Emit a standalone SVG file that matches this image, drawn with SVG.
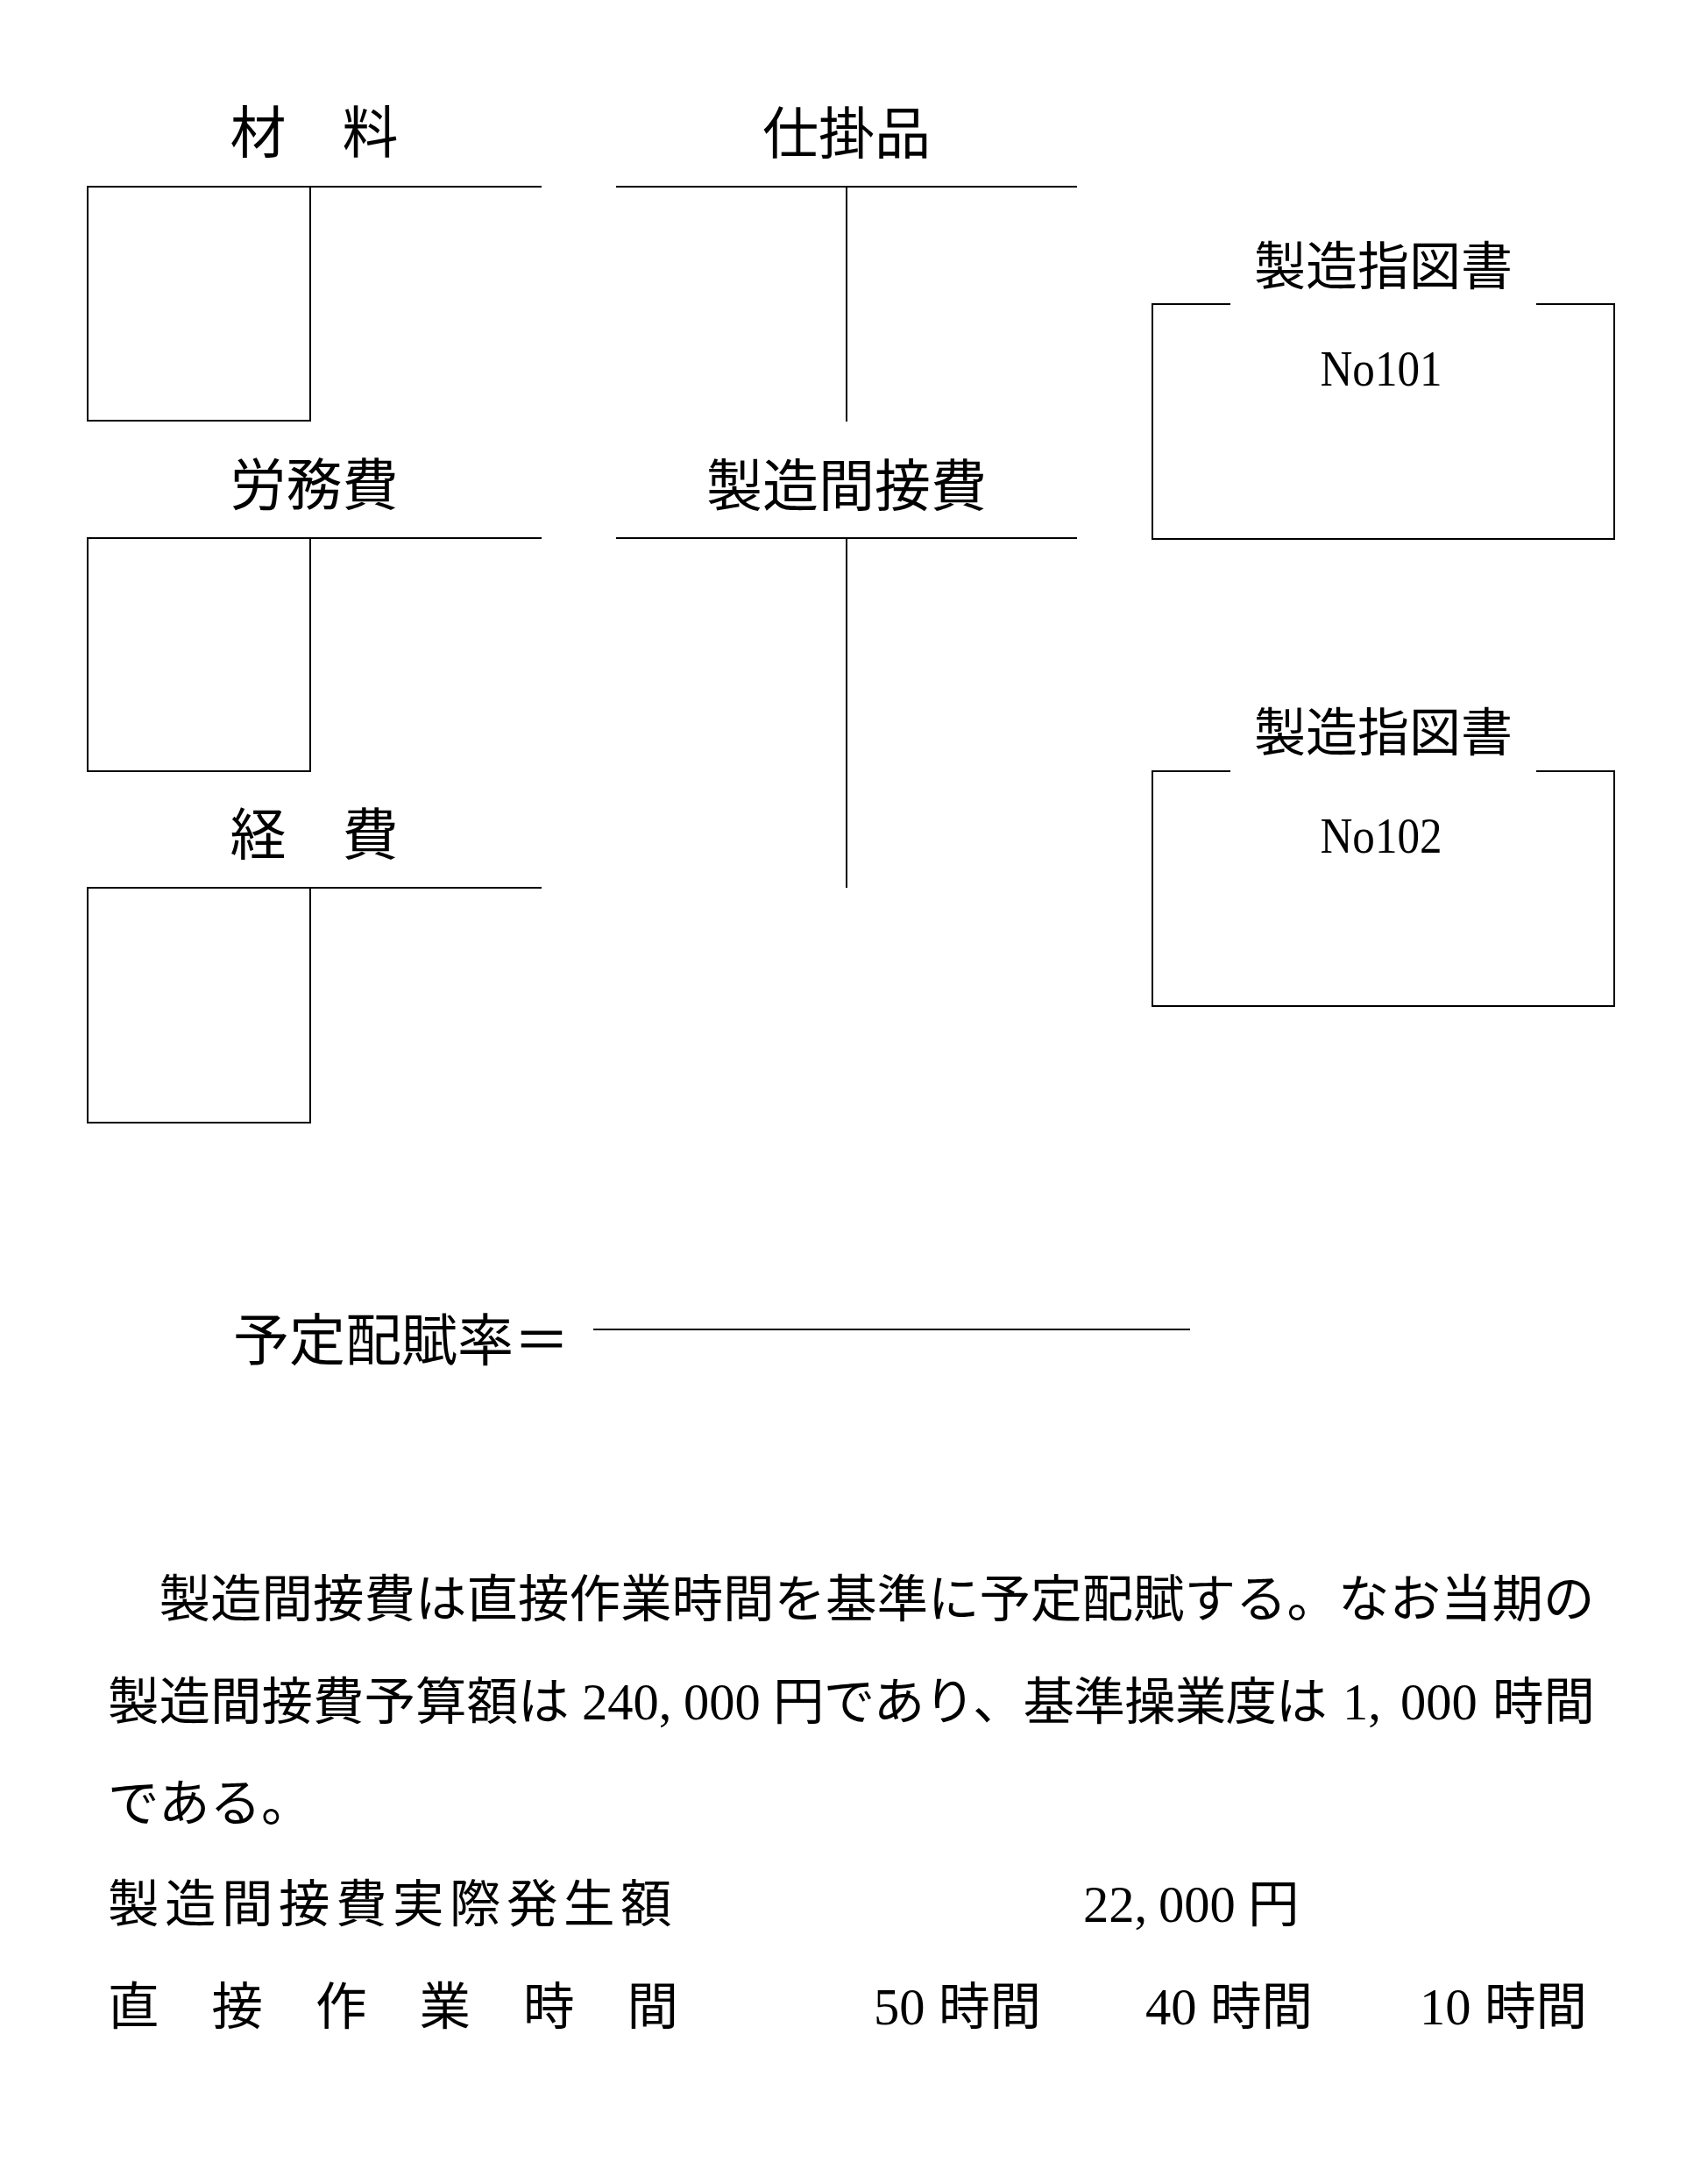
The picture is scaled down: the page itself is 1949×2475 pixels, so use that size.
<svg xmlns="http://www.w3.org/2000/svg" width="1949" height="2475" viewBox="0 0 1949 2475">
<style>
.ln{stroke:#000;stroke-width:2;fill:none;stroke-linecap:square}
.jp{font-family:"Noto Sans CJK JP","Noto Sans CJK SC",sans-serif;fill:#000}
.mx{font-family:"Liberation Serif","Noto Sans CJK JP",serif;fill:#000}
.t64{font-size:64px}
.t59{font-size:59px}
.p{font-size:58.5px}
.mid{text-anchor:middle}
</style>
<rect width="1949" height="2475" fill="#fff"/>

<g id="acct-zairyo">
<text class="jp t64 mid" x="358.5" y="174">材　料</text>
<line class="ln" x1="100" y1="213" x2="617" y2="213"/>
<rect class="ln" x="100" y="213" width="254" height="267"/>
</g>

<g id="acct-roumuhi">
<text class="jp t64 mid" x="358.5" y="576">労務費</text>
<line class="ln" x1="100" y1="614" x2="617" y2="614"/>
<rect class="ln" x="100" y="614" width="254" height="266"/>
</g>

<g id="acct-keihi">
<text class="jp t64 mid" x="358.5" y="975">経　費</text>
<line class="ln" x1="100" y1="1013" x2="617" y2="1013"/>
<rect class="ln" x="100" y="1013" width="254" height="268"/>
</g>

<g id="acct-shikakarihin">
<text class="jp t64 mid" x="966" y="175">仕掛品</text>
<line class="ln" x1="704" y1="213" x2="1228" y2="213"/>
<line class="ln" x1="966" y1="213" x2="966" y2="480"/>
</g>

<g id="acct-seizoukansetsuhi">
<text class="jp t64 mid" x="966" y="577">製造間接費</text>
<line class="ln" x1="704" y1="614" x2="1228" y2="614"/>
<line class="ln" x1="966" y1="614" x2="966" y2="1012"/>
</g>

<g id="order-101">
<text class="jp t59 mid" x="1578.5" y="325">製造指図書</text>
<path class="ln" d="M1403,347 H1315 V615 H1842 V347 H1754"/>
<text class="mx mid" font-size="56" x="1576" y="440" textLength="139" lengthAdjust="spacingAndGlyphs">No101</text>
</g>

<g id="order-102">
<text class="jp t59 mid" x="1578.5" y="857">製造指図書</text>
<path class="ln" d="M1403,880 H1315 V1148 H1842 V880 H1754"/>
<text class="mx mid" font-size="56" x="1576" y="973" textLength="139" lengthAdjust="spacingAndGlyphs">No102</text>
</g>

<g id="rate-formula">
<text class="jp t64" x="266" y="1552">予定配賦率＝</text>
<line class="ln" x1="678" y1="1517" x2="1357" y2="1517"/>
</g>

<g id="problem-text">
<text class="jp p" x="123" y="1845">　製造間接費は直接作業時間を基準に予定配賦する。なお当期の</text>

<text class="jp p" x="123" y="1962">製造間接費予算額は</text>
<text class="mx p" y="1962"><tspan x="664">240,</tspan><tspan x="780">000</tspan></text>
<text class="jp p" x="882" y="1962" letter-spacing="-0.8">円であり、基準操業度は</text>
<text class="mx p" y="1962"><tspan x="1532">1,</tspan><tspan x="1598">000</tspan></text>
<text class="jp p" x="1703" y="1962">時間</text>

<text class="jp p" x="123" y="2078">である。</text>

<text class="jp p" x="123" y="2193" letter-spacing="6.5">製造間接費実際発生額</text>
<text class="mx p" y="2193"><tspan x="1236">22,</tspan><tspan x="1322">000</tspan></text>
<text class="jp p" x="1424" y="2193">円</text>

<text class="jp p" x="123" y="2310" letter-spacing="60">直接作業時間</text>
<text class="mx p" x="997" y="2310">50</text>
<text class="jp p" x="1071" y="2310">時間</text>
<text class="mx p" x="1307" y="2310">40</text>
<text class="jp p" x="1381" y="2310">時間</text>
<text class="mx p" x="1620" y="2310">10</text>
<text class="jp p" x="1694" y="2310">時間</text>
</g>
</svg>
